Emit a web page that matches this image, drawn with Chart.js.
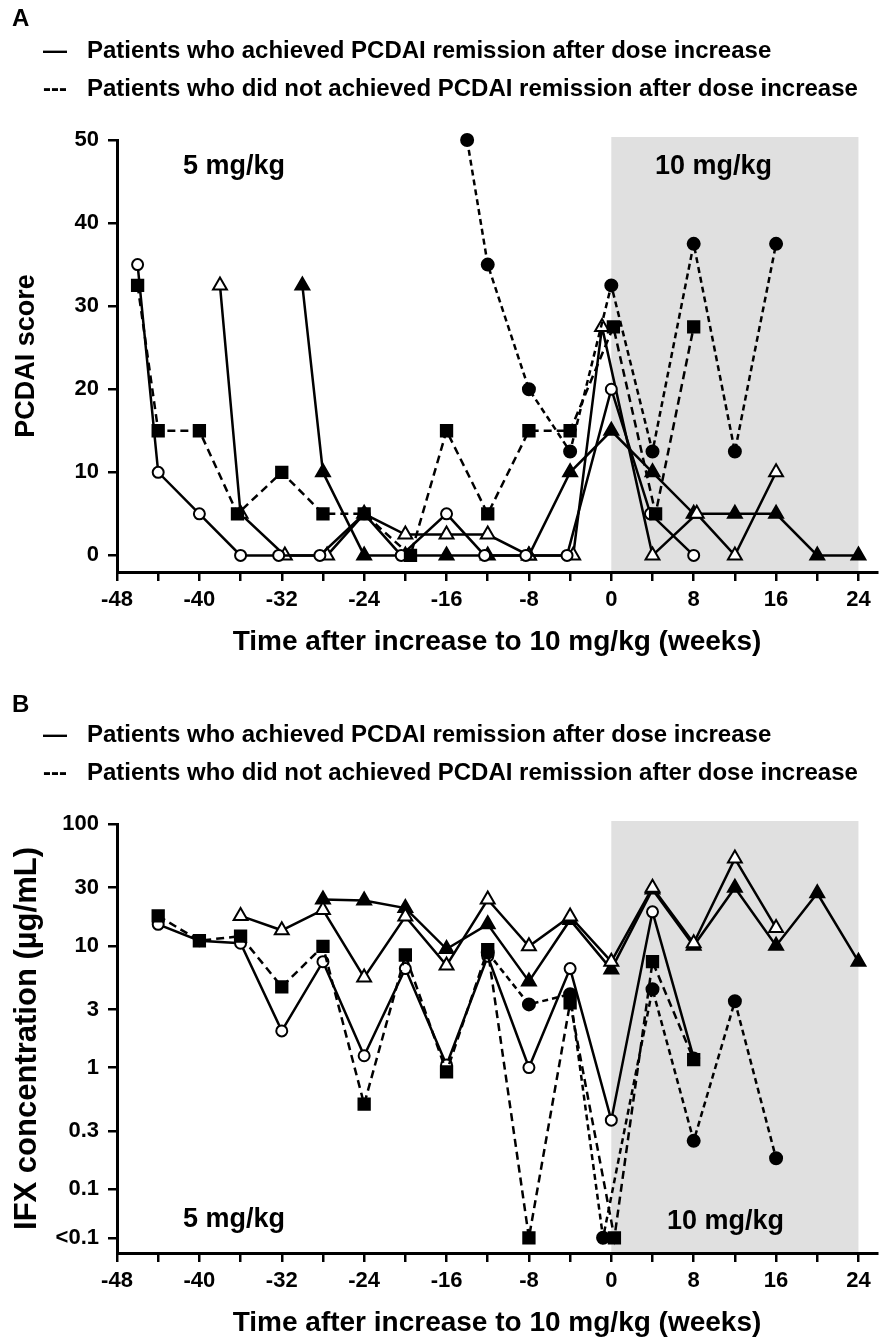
<!DOCTYPE html>
<html>
<head>
<meta charset="utf-8">
<script src="https://cdn.jsdelivr.net/npm/chart.js@4.4.0/dist/chart.umd.min.js"></script>
<style>
  body { margin: 0; background: #fff; }
  #page { position: relative; width: 879px; height: 1340px; overflow: hidden;
          font-family: 'Liberation Sans', Arial, sans-serif; font-weight: bold; color: #000; }
  canvas { position: absolute; left: 0; }
  .txt { position: absolute; white-space: nowrap; line-height: 1; }
</style>
</head>
<body>
<div id="page">
  <canvas id="chartA" width="879" height="670" style="top:0"></canvas>
  <canvas id="chartB" width="879" height="670" style="top:670px"></canvas>

  <div class="txt" style="left:12px;top:6px;font-size:24px">A</div>
  <div class="txt" style="left:43px;top:38px;font-size:24px">—</div>
  <div class="txt" style="left:87px;top:38px;font-size:24px">Patients who achieved PCDAI remission after dose increase</div>
  <div class="txt" style="left:43px;top:76px;font-size:24px">---</div>
  <div class="txt" style="left:87px;top:76px;font-size:24px">Patients who did not achieved PCDAI remission after dose increase</div>
  <div class="txt" style="left:183px;top:152px;font-size:27px">5 mg/kg</div>
  <div class="txt" style="left:655px;top:152px;font-size:27px">10 mg/kg</div>

  <div class="txt" style="left:12px;top:692px;font-size:24px">B</div>
  <div class="txt" style="left:43px;top:722px;font-size:24px">—</div>
  <div class="txt" style="left:87px;top:722px;font-size:24px">Patients who achieved PCDAI remission after dose increase</div>
  <div class="txt" style="left:43px;top:760px;font-size:24px">---</div>
  <div class="txt" style="left:87px;top:760px;font-size:24px">Patients who did not achieved PCDAI remission after dose increase</div>
  <div class="txt" style="left:183px;top:1205px;font-size:27px">5 mg/kg</div>
  <div class="txt" style="left:667px;top:1207px;font-size:27px">10 mg/kg</div>
</div>

<script>
// x axis (weeks after increase to 10 mg/kg)
const xTicks = [-48, -44, -40, -36, -32, -28, -24, -20, -16, -12, -8, -4, 0, 4, 8, 12, 16, 20, 24];
const xLabelStep = 8;

// ---- Panel A: PCDAI score ----
const yTicksA = [0, 10, 20, 30, 40, 50];

// solid lines (remission)
const openCircleWeeksA = [-46, -44, -40, -36, -32.3, -28.3, -24, -20.4, -16, -12.3, -8.3, -4.3, 0, 3.8, 8];
const openCircleScoreA = [35, 10, 5, 0, 0, 0, 5, 0, 5, 0, 0, 0, 20, 5, 0];
const openTriWeeksA = [-38, -36, -31.7, -27.6, -24, -20, -16, -12, -8, -3.7, -0.9, 4, 8.3, 12, 16];
const openTriScoreA = [32.5, 5, 0, 0, 5, 2.5, 2.5, 2.5, 0, 0, 27.5, 0, 5, 0, 10];
const filledTriWeeksA = [-30, -28, -24, -20, -16, -12, -8, -4, 0, 4, 8, 12, 16, 20, 24];
const filledTriScoreA = [32.5, 10, 0, 0, 0, 0, 0, 10, 15, 10, 5, 5, 5, 0, 0];
// dashed lines (no remission)
const filledSquareWeeksA = [-46, -44, -40, -36.3, -32, -28, -24, -19.5, -16, -12, -8, -4, 0.2, 4.3, 8];
const filledSquareScoreA = [32.5, 15, 15, 5, 10, 5, 5, 0, 15, 5, 15, 15, 27.5, 5, 27.5];
const filledCircleWeeksA = [-14, -12, -8, -4, 0, 4, 8, 12, 16];
const filledCircleScoreA = [50, 35, 20, 12.5, 32.5, 12.5, 37.5, 12.5, 37.5];

// ---- Panel B: IFX concentration (log) ----
const yTicksB = [100, 30, 10, 3, 1, 0.3, 0.1, 0.04];
const yTickLabelsB = ['100', '30', '10', '3', '1', '0.3', '0.1', '<0.1'];

const openCircleWeeksB = [-44, -40, -36, -32, -28, -24, -20, -16, -12, -8, -4, 0, 4, 8];
const openCircleIfxB = [15, 11, 10.5, 2, 7.4, 1.25, 6.5, 1.05, 8.2, 1, 6.5, 0.37, 19, 1.2];
const openTriWeeksB = [-36, -32, -28, -24, -20, -16, -12, -8, -4, 0, 4, 8, 12, 16];
const openTriIfxB = [17.6, 13.4, 19.7, 5.5, 17.4, 6.9, 24, 9.9, 17.4, 7.4, 30, 10.5, 52, 14];
const filledTriWeeksB = [-28, -24, -20, -16, -12, -8, -4, 0, 4, 8, 12, 16, 20, 24];
const filledTriIfxB = [24, 23.5, 20.4, 9.4, 15, 5.1, 16.3, 6.4, 29, 10, 30, 10, 27, 7.4];
const filledSquareWeeksB = [-44, -40, -36, -32, -28, -24, -20, -16, -12, -8, -4, 0.3, 4, 8];
const filledSquareIfxB = [17.6, 11, 12, 4.6, 9.9, 0.5, 8.4, 0.92, 9.3, 0.04, 3.4, 0.04, 7.4, 1.16];
const filledCircleWeeksB = [-12, -8, -4, -0.8, 4, 8, 12, 16];
const filledCircleIfxB = [8.8, 3.3, 4, 0.04, 4.4, 0.25, 3.5, 0.18];

const FONT = "'Liberation Sans', Arial, sans-serif";

function points(xs, ys) {
  return xs.map((x, i) => ({ x, y: ys[i] }));
}

function series(xs, ys, marker) {
  const styles = {
    openCircle:   { pointStyle: 'circle',   fill: '#fff', r: 5.5, dash: [] },
    openTri:      { pointStyle: 'triangle', fill: '#fff', r: 8,   dash: [] },
    filledTri:    { pointStyle: 'triangle', fill: '#000', r: 8,   dash: [] },
    filledSquare: { pointStyle: 'rect',     fill: '#000', r: 8,   dash: [8, 5] },
    filledCircle: { pointStyle: 'circle',   fill: '#000', r: 6,   dash: [6, 4] },
  };
  const s = styles[marker];
  return {
    data: points(xs, ys),
    borderColor: '#000',
    borderWidth: 2.5,
    borderDash: s.dash,
    pointStyle: s.pointStyle,
    pointRadius: s.r,
    pointBackgroundColor: s.fill,
    pointBorderColor: '#000',
    pointBorderWidth: 2,
    tension: 0,
    clip: false,
  };
}

// grey band for the 10 mg/kg period
const doseBand = {
  id: 'doseBand',
  beforeDraw(chart) {
    const { ctx, chartArea, scales } = chart;
    const x0 = scales.x.getPixelForValue(0);
    const x1 = scales.x.getPixelForValue(24);
    ctx.save();
    ctx.fillStyle = '#e0e0e0';
    ctx.fillRect(x0, chartArea.top - 3, x1 - x0, chartArea.bottom - chartArea.top + 2);
    ctx.restore();
  },
};

function xScale(titlePadBottom, axisHeight) {
  return {
    type: 'linear',
    min: -48,
    max: 25.8,
    afterBuildTicks: (scale) => { scale.ticks = xTicks.map((v) => ({ value: v })); },
    afterFit: (scale) => {
      scale.height = axisHeight;
      scale.paddingLeft = 0;
      scale.paddingRight = 0;
    },
    ticks: {
      autoSkip: false,
      maxRotation: 0,
      padding: 6,
      color: '#000',
      font: { family: FONT, size: 22, weight: 'bold' },
      callback: (v) => (v % xLabelStep === 0 ? String(v) : ''),
    },
    grid: { drawOnChartArea: false, drawTicks: true, tickLength: 9, color: '#000', lineWidth: 2.5 },
    border: { color: '#000', width: 3 },
    title: {
      display: true,
      text: 'Time after increase to 10 mg/kg (weeks)',
      color: '#000',
      font: { family: FONT, size: 28, weight: 'bold' },
      padding: { top: 0, bottom: titlePadBottom },
    },
  };
}

function yCommon(title, titleSize) {
  return {
    afterFit: (scale) => { scale.width = 117; },
    grid: { drawOnChartArea: false, drawTicks: true, tickLength: 9, color: '#000', lineWidth: 2.5 },
    border: { color: '#000', width: 3 },
    title: {
      display: true,
      text: title,
      color: '#000',
      font: { family: FONT, size: titleSize, weight: 'bold' },
      padding: { top: 27 - titleSize * 0.6, bottom: 0 },
    },
  };
}

function baseOptions(paddingTop, scales) {
  return {
    responsive: false,
    animation: false,
    devicePixelRatio: 1,
    layout: { autoPadding: false, padding: { top: paddingTop, right: 2, left: 0, bottom: 0 } },
    plugins: { legend: { display: false }, tooltip: { enabled: false } },
    scales,
  };
}

// Panel A
new Chart(document.getElementById('chartA'), {
  type: 'line',
  data: {
    datasets: [
      series(filledCircleWeeksA, filledCircleScoreA, 'filledCircle'),
      series(filledSquareWeeksA, filledSquareScoreA, 'filledSquare'),
      series(openCircleWeeksA, openCircleScoreA, 'openCircle'),
      series(openTriWeeksA, openTriScoreA, 'openTri'),
      series(filledTriWeeksA, filledTriScoreA, 'filledTri'),
    ],
  },
  options: baseOptions(140, {
    x: xScale(11, 98),
    y: {
      ...yCommon('PCDAI score', 27),
      type: 'linear',
      min: -2,
      max: 50,
      afterBuildTicks: (scale) => { scale.ticks = yTicksA.map((v) => ({ value: v })); },
      ticks: { padding: 9, color: '#000', font: { family: FONT, size: 22, weight: 'bold' } },
    },
  }),
  plugins: [doseBand],
});

// Panel B
new Chart(document.getElementById('chartB'), {
  type: 'line',
  data: {
    datasets: [
      series(filledCircleWeeksB, filledCircleIfxB, 'filledCircle'),
      series(filledSquareWeeksB, filledSquareIfxB, 'filledSquare'),
      series(openCircleWeeksB, openCircleIfxB, 'openCircle'),
      series(openTriWeeksB, openTriIfxB, 'openTri'),
      series(filledTriWeeksB, filledTriIfxB, 'filledTri'),
    ],
  },
  options: baseOptions(154, {
    x: xScale(0, 87),
    y: {
      ...yCommon('IFX concentration (µg/mL)', 31),
      type: 'logarithmic',
      min: 0.03,
      max: 100,
      afterBuildTicks: (scale) => { scale.ticks = yTicksB.map((v) => ({ value: v })); },
      ticks: {
        padding: 9,
        color: '#000',
        font: { family: FONT, size: 22, weight: 'bold' },
        callback: (v) => {
          const i = yTicksB.indexOf(v);
          return i >= 0 ? yTickLabelsB[i] : '';
        },
      },
    },
  }),
  plugins: [doseBand],
});
</script>
</body>
</html>
